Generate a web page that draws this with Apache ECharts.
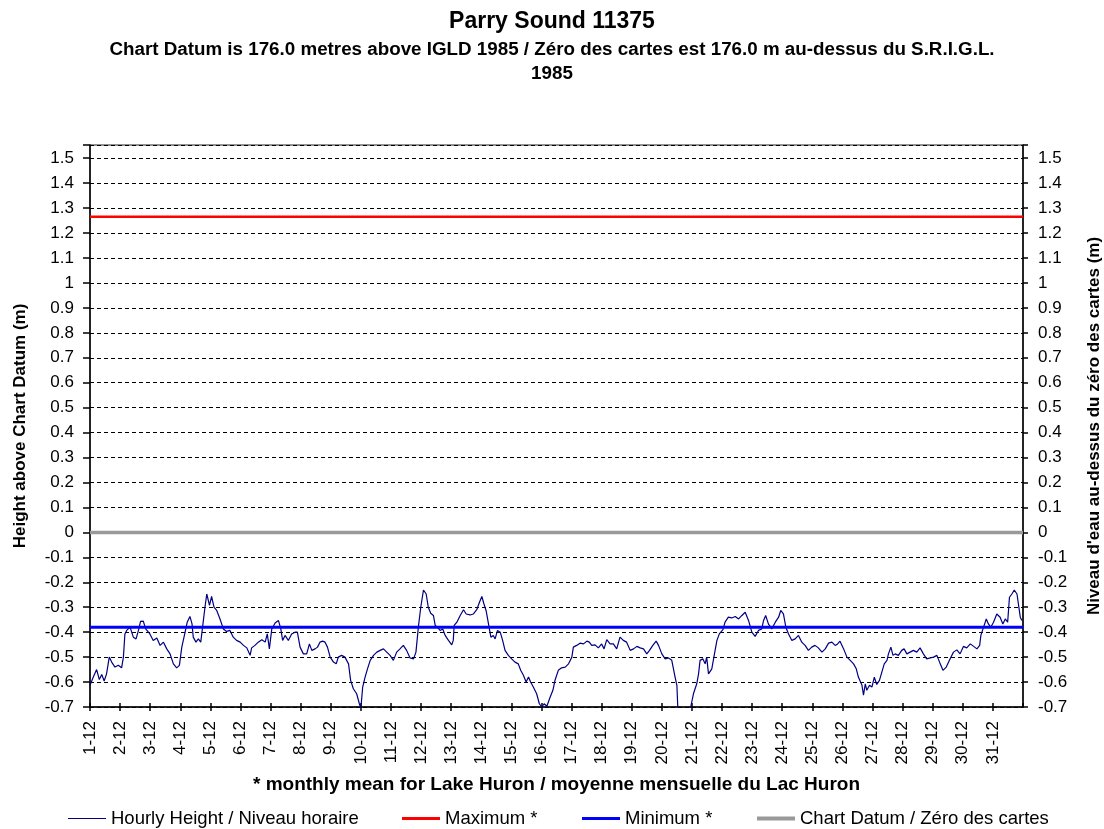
<!DOCTYPE html>
<html>
<head>
<meta charset="utf-8">
<script src="https://cdn.jsdelivr.net/npm/echarts@6/dist/echarts.min.js"></script>
<style>
html,body{margin:0;padding:0;background:#fff;}
#chart{width:1104px;height:829px;}
</style>
</head>
<body>
<div id="chart"></div>
<script>
// Time of each reading, in days since 1-12 00:00
const days = [
0,0.11,0.22,0.31,0.39,0.47,0.55,0.64,0.72,0.83,0.94,1.05,1.11,1.16,1.22,1.33,1.44,1.53,1.61,1.68,1.77,1.85,1.99,
2.10,2.22,2.33,2.44,2.55,2.66,2.77,2.88,2.97,3.05,3.16,3.23,3.32,3.39,3.43,3.52,3.60,3.68,3.74,3.82,3.88,3.97,
4.04,4.12,4.21,4.32,4.43,4.54,4.65,4.76,4.87,4.99,5.10,5.21,5.32,5.37,5.48,5.59,5.71,5.82,5.89,5.96,
6.04,6.15,6.26,6.34,6.40,6.48,6.59,6.70,6.81,6.89,6.98,7.09,7.20,7.29,7.37,7.48,7.56,7.64,7.73,7.81,7.89,7.98,
8.09,8.18,8.25,8.36,8.47,8.59,8.66,8.75,8.86,8.95,9.00,9.06,9.14,9.22,9.31,9.42,9.53,9.64,9.75,9.86,9.97,
10.08,10.19,10.30,10.41,10.52,10.63,10.75,10.83,10.91,10.99,11.08,11.17,11.24,11.32,11.41,11.47,11.54,11.63,11.72,11.80,11.91,
12.02,12.07,12.10,12.19,12.30,12.41,12.50,12.63,12.74,12.85,12.94,13.02,13.09,13.16,13.24,13.32,13.40,13.46,13.54,13.63,13.71,13.79,13.90,
14.01,14.12,14.23,14.31,14.40,14.49,14.57,14.64,14.73,14.84,14.93,15.01,15.09,15.18,15.29,15.38,15.45,15.56,15.67,15.79,15.90,
16.01,16.06,16.17,16.28,16.40,16.51,16.59,16.67,16.78,16.89,17.00,17.08,17.17,17.28,17.39,17.50,17.61,17.72,17.83,17.95,
18.06,18.17,18.28,18.39,18.50,18.59,18.70,18.81,18.89,19.00,19.11,19.22,19.33,19.44,19.50,19.53,19.55,19.72,19.88,19.96,
20.05,20.16,20.22,20.27,20.36,20.44,20.49,20.55,20.66,20.74,20.83,20.91,21.03,21.10,21.21,21.32,21.44,21.55,21.66,21.77,21.88,
21.99,22.10,22.21,22.32,22.38,22.45,22.54,22.65,22.77,22.88,22.95,23.04,23.12,23.21,23.32,23.43,23.54,23.65,23.76,23.87,23.98,
24.09,24.20,24.32,24.43,24.54,24.65,24.76,24.84,24.92,25.04,25.15,25.26,25.37,25.46,25.53,25.59,25.65,25.70,25.76,25.81,25.90,25.98,
26.06,26.14,26.23,26.31,26.39,26.48,26.53,26.61,26.68,26.75,26.86,26.97,27.05,27.14,27.25,27.36,27.47,27.58,27.69,27.80,27.92,
28.03,28.14,28.25,28.34,28.45,28.58,28.69,28.80,28.91,29.02,29.13,29.25,29.36,29.47,29.56,29.60,29.69,29.78,29.85,29.93,
30.02,30.13,30.24,30.33,30.41,30.49,30.55,30.63,30.71,30.80,30.85,30.91,30.96
];
// Hourly height above chart datum (m)
const heights = [
-0.613,-0.58,-0.55,-0.59,-0.57,-0.596,-0.567,-0.50,-0.52,-0.54,-0.533,-0.543,-0.50,-0.407,-0.393,-0.38,-0.42,-0.427,-0.393,-0.357,-0.356,-0.387,-0.407,
-0.433,-0.423,-0.453,-0.44,-0.467,-0.487,-0.527,-0.543,-0.533,-0.46,-0.40,-0.36,-0.337,-0.367,-0.42,-0.44,-0.427,-0.44,-0.38,-0.30,-0.247,-0.293,
-0.257,-0.30,-0.313,-0.347,-0.387,-0.397,-0.393,-0.42,-0.433,-0.44,-0.453,-0.463,-0.493,-0.463,-0.453,-0.44,-0.43,-0.44,-0.407,-0.467,
-0.387,-0.363,-0.353,-0.387,-0.433,-0.413,-0.433,-0.407,-0.40,-0.40,-0.46,-0.487,-0.487,-0.447,-0.473,-0.467,-0.46,-0.44,-0.436,-0.44,-0.46,-0.50,
-0.52,-0.527,-0.50,-0.493,-0.50,-0.527,-0.593,-0.627,-0.647,-0.687,-0.705,-0.62,-0.58,-0.547,-0.513,-0.493,-0.48,-0.473,-0.467,-0.48,-0.493,
-0.513,-0.48,-0.467,-0.453,-0.473,-0.503,-0.507,-0.48,-0.38,-0.30,-0.231,-0.247,-0.30,-0.324,-0.333,-0.373,-0.38,-0.393,-0.387,-0.413,-0.433,
-0.451,-0.433,-0.373,-0.36,-0.333,-0.31,-0.327,-0.331,-0.327,-0.31,-0.28,-0.257,-0.287,-0.313,-0.367,-0.42,-0.413,-0.427,-0.393,-0.40,-0.433,-0.473,-0.493,
-0.507,-0.52,-0.527,-0.553,-0.573,-0.60,-0.58,-0.60,-0.62,-0.647,-0.687,-0.70,-0.687,-0.697,-0.66,-0.633,-0.593,-0.553,-0.543,-0.54,-0.527,
-0.50,-0.46,-0.453,-0.444,-0.447,-0.436,-0.44,-0.453,-0.451,-0.463,-0.447,-0.467,-0.43,-0.447,-0.447,-0.467,-0.42,-0.433,-0.44,-0.473,
-0.467,-0.457,-0.463,-0.467,-0.487,-0.473,-0.453,-0.436,-0.453,-0.487,-0.507,-0.503,-0.513,-0.58,-0.613,-0.70,-0.74,-0.78,-0.74,-0.70,
-0.647,-0.607,-0.567,-0.513,-0.507,-0.527,-0.50,-0.567,-0.547,-0.493,-0.433,-0.407,-0.39,-0.36,-0.34,-0.343,-0.337,-0.347,-0.333,-0.32,-0.353,
-0.40,-0.417,-0.393,-0.387,-0.353,-0.333,-0.367,-0.387,-0.36,-0.34,-0.313,-0.327,-0.38,-0.407,-0.433,-0.427,-0.413,-0.44,-0.453,-0.473,-0.46,
-0.453,-0.463,-0.48,-0.467,-0.444,-0.44,-0.453,-0.447,-0.436,-0.467,-0.50,-0.513,-0.527,-0.547,-0.58,-0.573,-0.613,-0.653,-0.607,-0.633,-0.613,-0.62,
-0.58,-0.61,-0.593,-0.56,-0.527,-0.513,-0.487,-0.46,-0.493,-0.487,-0.493,-0.473,-0.467,-0.487,-0.48,-0.473,-0.48,-0.463,-0.487,-0.507,-0.503,
-0.50,-0.493,-0.527,-0.553,-0.54,-0.507,-0.48,-0.471,-0.487,-0.457,-0.463,-0.447,-0.457,-0.467,-0.453,-0.413,-0.38,-0.347,-0.367,-0.38,
-0.36,-0.327,-0.34,-0.367,-0.347,-0.36,-0.26,-0.247,-0.231,-0.247,-0.253,-0.34,-0.353
];
const maximum = 1.265;     // monthly mean max for Lake Huron
const minimum = -0.38;     // monthly mean min for Lake Huron
const chartDatum = 0;
const xTickLabels = ['1-12','2-12','3-12','4-12','5-12','6-12','7-12','8-12','9-12','10-12',
  '11-12','12-12','13-12','14-12','15-12','16-12','17-12','18-12','19-12','20-12',
  '21-12','22-12','23-12','24-12','25-12','26-12','27-12','28-12','29-12','30-12','31-12'];
const seriesNames = ['Hourly Height / Niveau horaire','Maximum *','Minimum *','Chart Datum / Zéro des cartes'];

const FONT = "'Liberation Sans', Arial, sans-serif";
const xMax = xTickLabels.length; // 31 days
const yMin = -0.7, yMax = 1.553;

const yFmt = v => {
  const t = Math.round(v * 10);
  return Math.abs(t - v * 10) < 1e-6 ? String(t / 10) : '';
};

const chart = echarts.init(document.getElementById('chart'), null, {renderer: 'canvas'});
const hline = v => [[0, v], [xMax, v]];

const legendBase = (name, left, h) => ({
  data: [name], left: left, top: 809, padding: 0, icon: 'rect', itemWidth: 38, itemHeight: h,
  textStyle: {fontFamily: FONT, fontSize: 18.5, color: '#000'}, selectedMode: false
});

chart.setOption({
  animation: false,
  backgroundColor: '#fff',
  title: [
    {text: 'Parry Sound 11375', left: 'center', top: 10, padding: 0,
     textStyle: {fontFamily: FONT, fontSize: 23, fontWeight: 'bold', color: '#000'}},
    {text: 'Chart Datum is 176.0 metres above IGLD 1985 / Zéro des cartes est 176.0 m au-dessus du S.R.I.G.L.\n1985',
     left: 'center', top: 38, padding: 0,
     textStyle: {fontFamily: FONT, fontSize: 18.8, fontWeight: 'bold', color: '#000', lineHeight: 24, align: 'center'}}
  ],
  legend: [
    legendBase(seriesNames[0], 68, 1),
    legendBase(seriesNames[1], 402, 3),
    legendBase(seriesNames[2], 582, 3),
    legendBase(seriesNames[3], 757, 4)
  ],
  grid: {left: 90, right: 81, top: 145, bottom: 122, outerBoundsMode: 'none', containLabel: false,
         show: true, borderColor: '#222', borderWidth: 1, backgroundColor: 'transparent'},
  xAxis: [
    {type: 'value', min: 0, max: xMax, interval: 1, position: 'bottom',
     axisLine: {show: true, onZero: false, lineStyle: {color: '#000', width: 1.5}},
     axisTick: {show: true, length: 4, lineStyle: {color: '#000', width: 1.5}},
     axisLabel: {rotate: 90, margin: 14, fontFamily: FONT, fontSize: 17, color: '#000',
       formatter: v => (v < xMax ? xTickLabels[Math.round(v)] : ''), showMaxLabel: false},
     splitLine: {show: false},
     name: '* monthly mean for Lake Huron / moyenne mensuelle du Lac Huron',
     nameLocation: 'middle', nameGap: 68,
     nameTextStyle: {fontFamily: FONT, fontSize: 19, fontWeight: 'bold', color: '#000'}},
    {type: 'value', min: 0, max: xMax, interval: 1, position: 'bottom',
     axisLine: {show: false, onZero: false}, axisLabel: {show: false}, splitLine: {show: false},
     axisTick: {show: true, inside: true, length: 4, lineStyle: {color: '#000', width: 1.5}}}
  ],
  yAxis: [
    {type: 'value', min: yMin, max: yMax, interval: 0.1, position: 'left',
     axisLine: {show: true, onZero: false, lineStyle: {color: '#000', width: 1.5}},
     axisTick: {show: true, length: 7, lineStyle: {color: '#000', width: 1.5}},
     axisLabel: {margin: 16, fontFamily: FONT, fontSize: 17, color: '#000', formatter: yFmt},
     splitLine: {show: true, lineStyle: {color: '#000', type: [4, 3], width: 1}},
     name: 'Height above Chart Datum (m)', nameLocation: 'middle', nameGap: 61, nameRotate: 90,
     nameTextStyle: {fontFamily: FONT, fontSize: 17, fontWeight: 'bold', color: '#000'}},
    {type: 'value', min: yMin, max: yMax, interval: 0.1, position: 'right',
     axisLine: {show: true, onZero: false, lineStyle: {color: '#000', width: 1.5}},
     axisTick: {show: true, length: 5, lineStyle: {color: '#000', width: 1.5}},
     axisLabel: {margin: 15, fontFamily: FONT, fontSize: 17, color: '#000', formatter: yFmt},
     splitLine: {show: false},
     name: "Niveau d'eau au-dessus du zéro des cartes (m)", nameLocation: 'middle', nameGap: 63, nameRotate: 90,
     nameTextStyle: {fontFamily: FONT, fontSize: 17, fontWeight: 'bold', color: '#000'}}
  ],
  series: [
    {name: seriesNames[0], type: 'line', xAxisIndex: 0, yAxisIndex: 0, showSymbol: false, symbol: 'none',
     color: '#000080', lineStyle: {color: '#000080', width: 1.2}, clip: true,
     data: days.map((d, i) => [d, heights[i]])},
    {name: seriesNames[1], type: 'line', showSymbol: false, symbol: 'none', color: '#ff0000',
     lineStyle: {color: '#ff0000', width: 2.5}, data: hline(maximum)},
    {name: seriesNames[2], type: 'line', showSymbol: false, symbol: 'none', color: '#0000ff',
     lineStyle: {color: '#0000ff', width: 3}, data: hline(minimum)},
    {name: seriesNames[3], type: 'line', showSymbol: false, symbol: 'none', color: '#999999',
     lineStyle: {color: '#999999', width: 3.5}, data: hline(chartDatum)}
  ]
});
</script>
</body>
</html>
